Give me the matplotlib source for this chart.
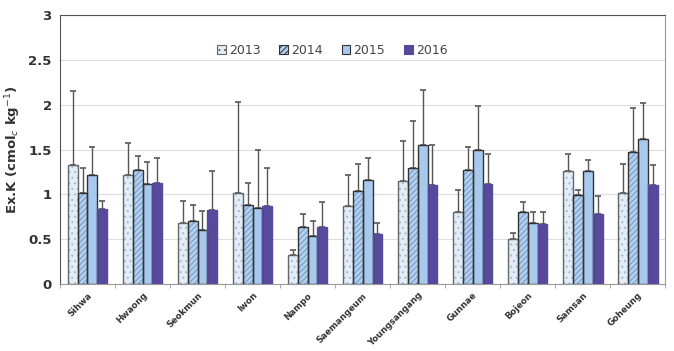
import numpy as np
import matplotlib.pyplot as plt
from matplotlib.patches import Patch

sites = ['Sihwa', 'Hwaong', 'Seokmun', 'Iwon', 'Nampo', 'Saemangeum',
         'Youngsangang', 'Gunnae', 'Bojeon', 'Samsan', 'Goheung']
years = ['2013', '2014', '2015', '2016']

# means
v2013 = [1.33, 1.22, 0.68, 1.02, 0.32, 0.87, 1.15, 0.80, 0.50, 1.26, 1.02]
v2014 = [1.01, 1.27, 0.70, 0.88, 0.63, 1.04, 1.29, 1.27, 0.80, 0.99, 1.47]
v2015 = [1.22, 1.11, 0.60, 0.85, 0.53, 1.16, 1.55, 1.50, 0.68, 1.26, 1.62]
v2016 = [0.84, 1.13, 0.82, 0.87, 0.64, 0.56, 1.10, 1.12, 0.67, 0.78, 1.10]

# upper error (std)
e2013 = [0.82, 0.35, 0.25, 1.01, 0.06, 0.35, 0.45, 0.25, 0.07, 0.19, 0.32]
e2014 = [0.28, 0.16, 0.18, 0.25, 0.15, 0.30, 0.53, 0.26, 0.11, 0.06, 0.49]
e2015 = [0.31, 0.25, 0.21, 0.65, 0.17, 0.25, 0.61, 0.49, 0.12, 0.12, 0.40]
e2016 = [0.09, 0.28, 0.44, 0.42, 0.27, 0.12, 0.45, 0.33, 0.13, 0.20, 0.23]

values = [v2013, v2014, v2015, v2016]
errors = [e2013, e2014, e2015, e2016]
faces = ['#e2edf8', '#b3cfee', '#a6c9ed', '#574a9c']
edges = ['#666666', '#333333', '#333333', '#574a9c']
hatches = ['...', '//////', '', '']
hatch_cols = ['#9fb8d6', '#6f98c9', '#a6c9ed', '#574a9c']

plt.rcParams['hatch.linewidth'] = 0.7

fig = plt.figure(figsize=(6.74, 3.51), dpi=100)
ax = fig.add_axes([0.089, 0.191, 0.898, 0.766])

x = np.arange(len(sites))
w = 0.18
handles = []
for i in range(4):
    pos = x + (i - 1.5) * w
    # fill + hatch (hatch takes edge colour), then outline on top
    ax.bar(pos, values[i], w, color=faces[i], edgecolor=hatch_cols[i], linewidth=0,
           hatch=hatches[i], zorder=3)
    ax.bar(pos, values[i], w, color='none', edgecolor=edges[i], linewidth=1.0, zorder=4)
    ax.errorbar(pos, values[i], yerr=[np.zeros(len(sites)), errors[i]], fmt='none',
                ecolor='#555555', elinewidth=1.0, capsize=2.5, capthick=1.2, zorder=2)
    handles.append(Patch(facecolor=faces[i], edgecolor=edges[i], hatch=hatches[i],
                         linewidth=0.8, label=years[i]))

ax.set_ylim(0, 3)
ax.set_xlim(-0.5, len(sites) - 0.5)
ax.set_yticks([0, 0.5, 1, 1.5, 2, 2.5, 3])
ax.set_yticklabels(['0', '0.5', '1', '1.5', '2', '2.5', '3'], fontsize=9.5, fontweight='bold',
                   color='#333333')
ax.yaxis.grid(True, color='#dddddd', linewidth=0.8, zorder=0)
ax.tick_params(axis='y', length=0, pad=6)

ax.set_xticks(x)
ax.set_xticklabels(sites, rotation=45, ha='right', rotation_mode='anchor', fontsize=6.3,
                   fontweight='bold', color='#333333')
ax.tick_params(axis='x', length=0, pad=5)
ax.set_xticks(np.arange(len(sites) + 1) - 0.5, minor=True)
ax.tick_params(axis='x', which='minor', length=3, color='#999999')

for s in ['left', 'top']:
    ax.spines[s].set_color('#555555')
for s in ['bottom', 'right']:
    ax.spines[s].set_color('#999999')

ax.set_ylabel('Ex.K (cmol$_c$ kg$^{-1}$)', fontsize=9.5, fontweight='bold', color='#333333')

ax.legend(handles=handles, loc='upper center', bbox_to_anchor=(0.45, 0.935), ncol=4,
          frameon=False, fontsize=9, handlelength=0.7, handleheight=0.7,
          handletextpad=0.25, columnspacing=1.5, labelcolor='#444444')

fig.savefig('out.png', dpi=100)
